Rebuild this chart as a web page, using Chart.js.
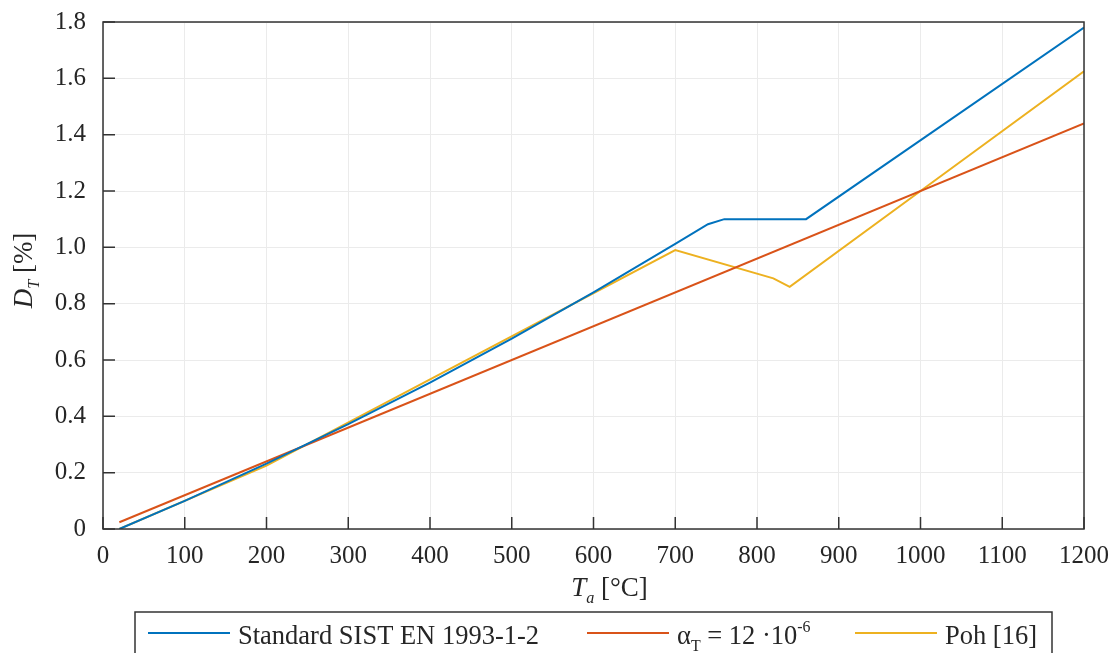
<!DOCTYPE html>
<html>
<head>
<meta charset="utf-8">
<script src="https://cdn.jsdelivr.net/npm/chart.js@4.4.1/dist/chart.umd.min.js"></script>
<style>
  html, body { margin: 0; padding: 0; background: #fff; }
  #wrap { width: 1112px; height: 653px; }
</style>
</head>
<body>
<div id="wrap"><canvas id="chartDilatacija" width="1112" height="653"></canvas></div>
<script>
// temperature [°C] and thermal strain [%]
var tempStd = [20, 100, 200, 300, 400, 500, 600, 700, 740, 760, 860, 1200];
var strainStd = [0, 0.10, 0.232, 0.372, 0.52, 0.676, 0.84, 1.012, 1.082, 1.1, 1.1, 1.78];

var tempAlpha = [20, 1200];
var strainAlpha = [0.024, 1.44];

var tempPoh = [20, 200, 700, 820, 840, 1000, 1200];
var strainPoh = [0, 0.225, 0.99, 0.89, 0.86, 1.2, 1.625];

var xTicks = [0, 100, 200, 300, 400, 500, 600, 700, 800, 900, 1000, 1100, 1200];
var yTicks = [0, 0.2, 0.4, 0.6, 0.8, 1.0, 1.2, 1.4, 1.6, 1.8];

var FONT = '"Liberation Serif", "Times New Roman", serif';
var TXT = '#262626';

function pts(xs, ys) {
  return xs.map(function (x, i) { return { x: x, y: ys[i] }; });
}

// draw text with italic / sub / sup parts
function richWidth(ctx, parts, size) {
  var w = 0;
  parts.forEach(function (p) {
    var s = (p.sub || p.sup) ? size * 0.6 : size;
    ctx.font = (p.it ? 'italic ' : '') + s + 'px ' + FONT;
    w += ctx.measureText(p.t).width;
  });
  return w;
}
function richDraw(ctx, parts, x, y, size) {
  ctx.textBaseline = 'alphabetic';
  ctx.textAlign = 'left';
  parts.forEach(function (p) {
    var s = (p.sub || p.sup) ? size * 0.6 : size;
    ctx.font = (p.it ? 'italic ' : '') + s + 'px ' + FONT;
    var dy = p.sub ? size * 0.25 : (p.sup ? -size * 0.45 : 0);
    ctx.fillText(p.t, x, y + dy);
    x += ctx.measureText(p.t).width;
  });
}

var extras = {
  id: 'extras',
  afterDatasetsDraw: function (chart) {
    var ctx = chart.ctx;
    var a = chart.chartArea;
    var sx = chart.scales.x, sy = chart.scales.y;
    ctx.save();
    ctx.strokeStyle = '#333';
    ctx.lineWidth = 1.5;
    // inward ticks
    ctx.beginPath();
    xTicks.forEach(function (v) {
      var px = sx.getPixelForValue(v);
      ctx.moveTo(px, a.bottom); ctx.lineTo(px, a.bottom - 12);
    });
    yTicks.forEach(function (v) {
      var py = sy.getPixelForValue(v);
      ctx.moveTo(a.left, py); ctx.lineTo(a.left + 12, py);
    });
    ctx.stroke();
    // box
    ctx.strokeRect(a.left, a.top, a.right - a.left, a.bottom - a.top);

    ctx.fillStyle = TXT;
    // x title
    var xt = [{ t: 'T', it: true }, { t: 'a', it: true, sub: true }, { t: ' [°C]' }];
    var w = richWidth(ctx, xt, 27);
    richDraw(ctx, xt, (a.left + a.right) / 2 - w / 2 + 16, 596, 27);
    // y title
    var yt = [{ t: 'D', it: true }, { t: 'T', it: true, sub: true }, { t: ' [%]' }];
    ctx.save();
    ctx.translate(32, (a.top + a.bottom) / 2 - 5);
    ctx.rotate(-Math.PI / 2);
    w = richWidth(ctx, yt, 27);
    richDraw(ctx, yt, -w / 2, 0, 27);
    ctx.restore();

    // legend
    ctx.strokeStyle = '#333';
    ctx.lineWidth = 1.5;
    ctx.fillStyle = '#fff';
    ctx.fillRect(135, 612, 917, 50);
    ctx.strokeRect(135, 612, 917, 50);
    var items = [
      { c: '#0072BD', x0: 148, parts: [{ t: 'Standard SIST EN 1993-1-2' }] },
      { c: '#D95319', x0: 587, parts: [{ t: 'α' }, { t: 'T', sub: true }, { t: ' = 12 ·10' }, { t: '-6', sup: true }] },
      { c: '#EDB120', x0: 855, parts: [{ t: 'Poh [16]' }] }
    ];
    items.forEach(function (it) {
      ctx.strokeStyle = it.c;
      ctx.lineWidth = 2;
      ctx.beginPath();
      ctx.moveTo(it.x0, 633); ctx.lineTo(it.x0 + 82, 633);
      ctx.stroke();
      ctx.fillStyle = TXT;
      richDraw(ctx, it.parts, it.x0 + 90, 644, 26.5);
    });
    ctx.restore();
  }
};

var ctx = document.getElementById('chartDilatacija').getContext('2d');
var myChart = new Chart(ctx, {
  type: 'scatter',
  data: {
    datasets: [
      { label: 'Standard SIST EN 1993-1-2', data: pts(tempStd, strainStd), borderColor: '#0072BD' },
      { label: 'αT = 12 ·10-6', data: pts(tempAlpha, strainAlpha), borderColor: '#D95319' },
      { label: 'Poh [16]', data: pts(tempPoh, strainPoh), borderColor: '#EDB120' }
    ].map(function (d) {
      d.showLine = true;
      d.borderWidth = 2;
      d.pointRadius = 0;
      d.fill = false;
      d.tension = 0;
      return d;
    })
  },
  options: {
    responsive: false,
    animation: false,
    layout: { padding: { top: 22, right: 28, left: 0, bottom: 0 } },
    plugins: { legend: { display: false }, tooltip: { enabled: false } },
    scales: {
      x: {
        type: 'linear',
        min: 0, max: 1200,
        afterBuildTicks: function (s) { s.ticks = xTicks.map(function (v) { return { value: v }; }); },
        afterFit: function (s) { s.height = 124; s.paddingLeft = 0; s.paddingRight = 0; },
        grid: { color: '#ebebeb', lineWidth: 1, drawTicks: false },
        border: { display: false },
        ticks: {
          font: { family: FONT, size: 25 }, color: TXT, padding: 12, maxRotation: 0, autoSkip: false,
          callback: function (v) { return String(v); }
        }
      },
      y: {
        min: 0, max: 1.8,
        afterBuildTicks: function (s) { s.ticks = yTicks.map(function (v) { return { value: v }; }); },
        afterFit: function (s) { s.width = 103; s.paddingTop = 0; s.paddingBottom = 0; },
        grid: { color: '#ebebeb', lineWidth: 1, drawTicks: false },
        border: { display: false },
        ticks: {
          font: { family: FONT, size: 25 }, color: TXT, padding: 17, autoSkip: false,
          callback: function (v) { return v === 0 ? '0' : v.toFixed(1); }
        }
      }
    }
  },
  plugins: [extras]
});
</script>
</body>
</html>
